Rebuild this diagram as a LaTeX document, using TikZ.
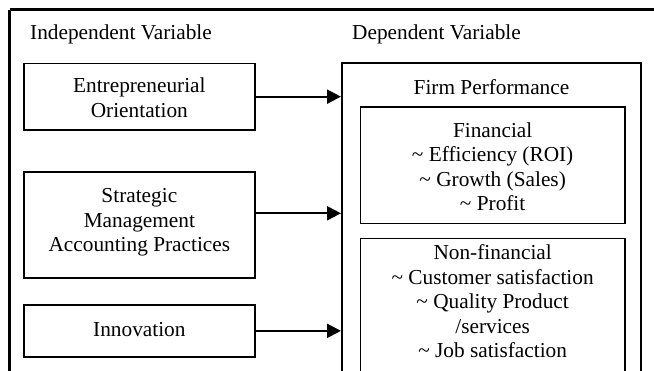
\documentclass[tikz,border=0pt]{standalone}
\usepackage{fontspec}
\setmainfont{Liberation Serif}
\usetikzlibrary{arrows.meta}

\begin{document}
\begin{tikzpicture}[x=1pt, y=-1pt,
    every node/.style={font=\fontsize{21.3}{24.5}\selectfont, inner sep=0pt},
    frame/.style={draw, line width=2.2pt},
    varbox/.style={draw, line width=1.6pt, minimum width=231.3pt},
    subbox/.style={draw, line width=1.6pt, minimum width=264.7pt},
    link/.style={line width=2pt, -{Triangle[length=14pt, width=14pt]}},
    heading/.style={anchor=base west},
    body/.style={align=center, anchor=base}
  ]
  \useasboundingbox (0,0) rectangle (654,370);
  \clip (0,0) rectangle (654,370);

  % outer frame (runs past the right and bottom edges)
  \draw[frame] (9.5,9.5) -- (700,9.5);
  \draw[frame] (9.5,9.5) -- (9.5,420);

  % column headings
  \node[heading] (indep) at (30,39.5) {Independent Variable};
  \node[heading] (dep) at (352,39.5) {Dependent Variable};

  % independent variables (text nodes sit on the baseline of their last line)
  \node[varbox, minimum height=66.7pt] (eo) at (139.35,96.65) {};
  \node[body] (eotext) at (139.35,117) {Entrepreneurial\\Orientation};

  \node[varbox, minimum height=106pt] (smap) at (139.35,224.7) {};
  \node[body] (smaptext) at (139.35,251.5) {Strategic\\Management\\Accounting Practices};

  \node[varbox, minimum height=51.7pt] (inno) at (139.35,330.85) {};
  \node[body] (innotext) at (139.35,336.5) {Innovation};

  % dependent variable
  \node[frame, line width=2pt, minimum width=299pt, minimum height=337pt] (fp) at (491.5,231.5) {};
  \node[body] (fptitle) at (491.5,94.5) {Firm Performance};

  \node[subbox, minimum height=116.3pt] (fin) at (492.65,165.15) {};
  \node[body] (fintext) at (492.65,210.5) {Financial\\\textasciitilde{} Efficiency (ROI)\\\textasciitilde{} Growth (Sales)\\\textasciitilde{} Profit};

  \node[subbox, minimum height=160pt] (nonfin) at (492.65,318.3) {};
  \node[body] (nonfintext) at (492.65,357.5) {Non-financial\\\textasciitilde{} Customer satisfaction\\\textasciitilde{} Quality Product\\/services\\\textasciitilde{} Job satisfaction};

  % effects on firm performance
  \coordinate (smapout) at ([yshift=11.4pt]smap.east);
  \draw[link] (eo.east) -- (fp.west |- eo.east);
  \draw[link] (smapout) -- (fp.west |- smapout);
  \draw[link] (inno.east) -- (fp.west |- inno.east);
\end{tikzpicture}
\end{document}
